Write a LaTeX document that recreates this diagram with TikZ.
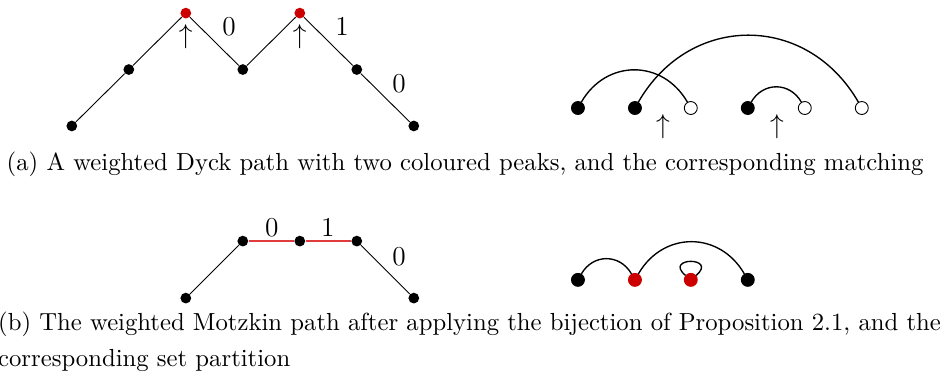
\documentclass[tikz,border=0pt]{standalone}
\usepackage{amsmath,amssymb}
\usepackage{xcolor}
\usepackage{tikz}
\usetikzlibrary{calc,positioning}
\definecolor{peakred}{HTML}{CC0000}
\definecolor{flatred}{HTML}{E03C3C}
\tikzset{
  dot/.style={circle,fill=black,inner sep=0pt,minimum size=1.66mm},
  rdot/.style={dot,fill=peakred},
  bnode/.style={circle,draw=black,fill=black,inner sep=0pt,minimum size=2mm},
  wnode/.style={bnode,fill=white},
  rnode/.style={bnode,draw=peakred,fill=peakred},
  wt/.style={font=\large,inner sep=1pt},
  upar/.style={font=\large,inner sep=0pt},
  arc/.style={semithick,out=60,in=120,looseness=1.2},
  capt/.style={inner sep=0pt,align=left,font=\fontsize{10.85pt}{15.6pt}\selectfont}
}
\begin{document}
\begin{tikzpicture}[x=0.88cm,y=0.88cm]
\useasboundingbox (0,0) rectangle (16.58,-6.754);
% (a) Dyck path
\node[dot]  (a0) at (1.26,-2.21) {};
\node[dot]  (a1) at (2.26,-1.22) {};
\node[rdot] (a2) at (3.26,-0.23) {};
\node[dot]  (a3) at (4.26,-1.22) {};
\node[rdot] (a4) at (5.26,-0.23) {};
\node[dot]  (a5) at (6.26,-1.22) {};
\node[dot]  (a6) at (7.26,-2.21) {};
\draw (a0)--(a1)--(a2)--(a3)--(a4)--(a5)--(a6);
\node[upar] (up1) at (3.26,-0.64) {$\uparrow$};
\node[upar] (up2) at (5.26,-0.64) {$\uparrow$};
\node[wt] (w1) at (4.02,-0.47) {$0$};
\node[wt] (w2) at (6.00,-0.47) {$1$};
\node[wt] (w3) at (7.00,-1.47) {$0$};
% (a) matching
\node[bnode] (m1) at (10.14,-1.895) {};
\node[bnode] (m2) at (11.14,-1.895) {};
\node[wnode] (m3) at (12.12,-1.895) {};
\node[bnode] (m4) at (13.12,-1.895) {};
\node[wnode] (m5) at (14.12,-1.895) {};
\node[wnode] (m6) at (15.12,-1.895) {};
\draw[arc] (m1) to (m3);
\draw[arc] (m2) to (m6);
\draw[arc] (m4) to (m5);
\node[upar] (up3) at (11.63,-2.23) {$\uparrow$};
\node[upar] (up4) at (13.63,-2.23) {$\uparrow$};
\node[capt,anchor=base] (capa) at (8.16,-3.00)
  {(a) A weighted Dyck path with two coloured peaks, and the corresponding matching};
% (b) Motzkin path
\node[dot] (b0) at (3.26,-5.23) {};
\node[dot] (b1) at (4.26,-4.23) {};
\node[dot] (b2) at (5.26,-4.23) {};
\node[dot] (b3) at (6.26,-4.23) {};
\node[dot] (b4) at (7.26,-5.23) {};
\draw (b0)--(b1) (b3)--(b4);
\draw[flatred,semithick] (b1)--(b2)--(b3);
\node[wt] (v1) at (4.77,-4.00) {$0$};
\node[wt] (v2) at (5.75,-4.00) {$1$};
\node[wt] (v3) at (7.00,-4.51) {$0$};
% (b) set partition
\node[bnode] (p1) at (10.14,-4.91) {};
\node[rnode] (p2) at (11.14,-4.91) {};
\node[rnode] (p3) at (12.12,-4.91) {};
\node[bnode] (p4) at (13.12,-4.91) {};
\draw[arc] (p1) to (p2);
\draw[arc] (p2) to (p4);
\draw[semithick] (p3) to[out=140,in=40,min distance=4.5mm] (p3);
\node[capt,anchor=base west] (capb) at (-0.04,-6.43)
  {(b) The weighted Motzkin path after applying the bijection of Proposition 2.1, and the\\
   corresponding set partition};
\end{tikzpicture}
\end{document}
